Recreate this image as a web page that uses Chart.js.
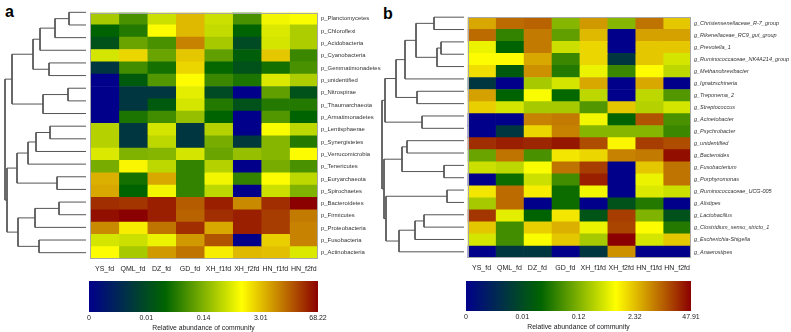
<!DOCTYPE html>
<html><head><meta charset="utf-8">
<script src="https://cdn.jsdelivr.net/npm/chart.js@4.4.0/dist/chart.umd.min.js"></script>
<style>
html,body{margin:0;padding:0;background:#fff;width:791px;height:332px;overflow:hidden;position:relative;font-family:"Liberation Sans",Arial,sans-serif;}
canvas{position:absolute;}
.lab{position:absolute;font-weight:bold;font-size:16px;line-height:16px;color:#000;}
</style></head><body>
<div class="lab" style="left:5px;top:4px">a</div>
<div class="lab" style="left:383px;top:6px">b</div>
<canvas id="dA" width="83" height="253" style="left:3px;top:6px"></canvas>
<canvas id="hA" width="304" height="275" style="left:89px;top:6px"></canvas>
<canvas id="cA" width="259" height="51" style="left:74px;top:281px"></canvas>
<canvas id="dB" width="84" height="247" style="left:380px;top:11px"></canvas>
<canvas id="hB" width="325" height="269" style="left:466px;top:11px"></canvas>
<canvas id="cB" width="255" height="50" style="left:451px;top:281px"></canvas>
<script>
// ---------- DATA ----------
const colsA = ["YS_fd","QML_fd","DZ_fd","GD_fd","XH_f1fd","XH_f2fd","HN_f1fd","HN_f2fd"];
const colsB = ["YS_fd","QML_fd","DZ_fd","GD_fd","XH_f1fd","XH_f2fd","HN_f1fd","HN_f2fd"];
const rowsA = ["p_Planctomycetes","p_Chloroflexi","p_Acidobacteria","p_Cyanobacteria","p_Gemmatimonadetes",
  "p_unidentified","p_Nitrospirae","p_Thaumarchaeota","p_Armatimonadetes","p_Lentisphaerae",
  "p_Synergistetes","p_Verrucomicrobia","p_Tenericutes","p_Euryarchaeota","p_Spirochaetes",
  "p_Bacteroidetes","p_Firmicutes","p_Proteobacteria","p_Fusobacteria","p_Actinobacteria"];
const rowsB = ["g_Christensenellaceae_R-7_group","g_Rikenellaceae_RC9_gut_group","g_Prevotella_1",
  "g_Ruminococcaceae_NK4A214_group","g_Methanobrevibacter","g_Ignatzschineria","g_Treponema_2",
  "g_Streptococcus","g_Acinetobacter","g_Psychrobacter","g_unidentified","g_Bacteroides",
  "g_Fusobacterium","g_Porphyromonas","g_Ruminococcaceae_UCG-005","g_Alistipes","g_Lactobacillus",
  "g_Clostridium_sensu_stricto_1","g_Escherichia-Shigella","g_Anaerostipes"];
// log-scaled relative abundance, expressed as position on the colour key (0 = "0", 100 = max)
const heatA = [
  [55,43,60,76,60,43,65,66],
  [33,38,67,76,59,33,62,56],
  [27,47,43,83,55,25,61,56],
  [61,72,47,74,46,31,74,41],
  [18,42,36,72,34,27,36,43],
  [0,30,44,67,41,37,62,56],
  [0,18,18,63,25,0,46,27],
  [0,18,30,61,38,27,38,38],
  [0,37,42,53,33,0,44,33],
  [57,18,61,18,57,0,66,58],
  [57,18,58,18,49,19,51,38],
  [62,50,51,61,47,53,51,67],
  [49,68,58,40,57,0,49,43],
  [77,36,78,40,65,40,67,58],
  [78,33,65,40,58,0,60,50],
  [94,93,96,88,96,82,94,100],
  [98,100,96,87,94,96,92,84],
  [82,69,85,94,78,96,92,83],
  [61,60,64,80,89,0,73,83],
  [67,55,80,85,69,76,75,62]];
const heatB = [
  [78,86,87,51,80,51,85,74],
  [86,40,84,46,76,0,79,79],
  [64,33,84,60,72,0,74,74],
  [67,67,78,41,72,18,74,61],
  [71,30,81,38,64,41,67,58],
  [18,0,55,61,78,0,78,0],
  [79,33,66,34,58,0,58,44],
  [73,61,55,55,44,74,57,61],
  [0,0,83,84,65,33,89,43],
  [0,18,72,83,51,51,51,41],
  [94,96,95,97,90,68,92,90],
  [47,85,43,70,72,83,84,98],
  [60,58,66,85,92,0,74,85],
  [0,35,60,42,96,0,64,85],
  [70,86,69,35,65,0,62,60],
  [55,86,0,35,0,27,38,0],
  [93,63,33,70,28,92,50,27],
  [74,42,73,77,64,91,67,38],
  [61,42,66,74,55,100,61,74],
  [0,18,18,0,18,81,0,0]];
const keyTicksA = ["0","0.01","0.14","3.01","68.22"];
const keyTicksB = ["0","0.01","0.12","2.32","47.91"];
const keyTitle = "Relative abundance of community";
// hierarchical clustering (hclust-style merges: negative = leaf row, positive = earlier merge)
const mergeA = [[-1,-2],[1,-3],[2,-4],[-5,-6],[3,4],[-7,-8],[6,-9],[5,7],[-10,-11],[9,-12],
  [10,-13],[-14,-15],[11,12],[-16,-17],[14,-18],[-19,-20],[15,16],[13,17],[8,18]];
const heightA = [17,31,46,37,53,18,43,74,36,50,58,29,69,27,51,47,68,79,81];
const mergeB = [[-1,-2],[-3,-4],[2,-5],[1,3],[4,-6],[-7,-8],[5,6],[-9,-10],[7,8],[-11,-12],
  [-13,-14],[10,11],[-15,-16],[-17,-18],[14,-19],[15,-20],[13,16],[12,17],[9,18]];
const heightB = [30,23,27,48,59,47,68,42,79,57,20,62,17,40,49,65,78,80,82];

// ---------- RENDERING ----------
const FONT = "'Liberation Sans', Arial, sans-serif";
const stops = [[0,[0,0,139]],[1/3,[0,100,0]],[2/3,[255,255,0]],[1,[139,0,0]]];
function colourOf(v){
  const t = Math.max(0, Math.min(1, v/100));
  for (let k=1;k<stops.length;k++){
    if (t <= stops[k][0]){
      const [t0,c0] = stops[k-1], [t1,c1] = stops[k];
      const f = (t-t0)/(t1-t0);
      return 'rgb(' + c0.map((c,i)=>Math.round(c+(c1[i]-c)*f)).join(',') + ')';
    }
  }
  return 'rgb(139,0,0)';
}
const frame = {id:'frame', afterDatasetsDraw(chart,args,opts){
  if(!opts || !opts.color) return;
  const a = chart.chartArea, c = chart.ctx;
  c.save(); c.strokeStyle = opts.color; c.lineWidth = 1;
  c.strokeRect(Math.round(a.left)+0.5, Math.round(a.top)+0.5, Math.round(a.right-a.left)-1, Math.round(a.bottom-a.top)-1);
  c.restore();
}};

function heatmap(id, rows, cols, vals, labW, italic, labSize){
  new Chart(document.getElementById(id), {
    type:'bar',
    data:{labels:rows, datasets:cols.map((c,j)=>({label:c, data:rows.map(()=>1),
      backgroundColor:rows.map((r,i)=>colourOf(vals[i][j])), borderWidth:0, barPercentage:1, categoryPercentage:1}))},
    options:{indexAxis:'y', responsive:false, animation:false, events:[],
      layout:{padding:0},
      plugins:{legend:{display:false}, tooltip:{enabled:false}, frame:{color:'#a8a8a8'}},
      scales:{
        x:{type:'linear', stacked:true, min:0, max:cols.length,
          grid:{display:false, drawTicks:false}, border:{display:false},
          afterBuildTicks:ax=>{ax.ticks = cols.map((c,j)=>({value:j+0.5}));},
          ticks:{autoSkip:false, maxRotation:0, padding:6, color:'#222', font:{family:FONT, size:7},
            callback:(v,i)=>cols[i]},
          afterFit:s=>{s.height = 22;}},
        y:{type:'category', stacked:true, position:'right',
          grid:{display:false, drawTicks:false}, border:{display:false},
          ticks:{autoSkip:false, padding:3, color:'#333', font:{family:FONT, size:labSize, style: italic?'italic':'normal'}},
          afterFit:s=>{s.width = labW;}}
      }},
    plugins:[frame]
  });
}

function dendro(id, merges, heights, n, hMax){
  const pos = [], datasets = [];
  const node = k => k<0 ? {y:-k, h:0} : pos[k-1];
  merges.forEach((m,k)=>{
    const L = node(m[0]), R = node(m[1]), h = heights[k];
    datasets.push({data:[{x:L.h,y:L.y},{x:h,y:L.y},{x:h,y:R.y},{x:R.h,y:R.y}],
      showLine:true, borderColor:'#555', borderWidth:1, pointRadius:0, fill:false, tension:0, clip:false});
    pos.push({y:(L.y+R.y)/2, h:h});
  });
  new Chart(document.getElementById(id), {
    type:'scatter', data:{datasets},
    options:{responsive:false, animation:false, events:[], layout:{padding:0},
      plugins:{legend:{display:false}, tooltip:{enabled:false}},
      scales:{x:{type:'linear', reverse:true, min:0, max:hMax, display:false},
              y:{type:'linear', reverse:true, min:0.5, max:n+0.5, display:false}}}
  });
}

function colourKey(id, tickLab){
  new Chart(document.getElementById(id), {
    type:'bar',
    data:{labels:[''], datasets:[{data:[1], borderWidth:0, barPercentage:1, categoryPercentage:1,
      backgroundColor:(ctx)=>{
        const a = ctx.chart.chartArea; if(!a) return '#888';
        const g = ctx.chart.ctx.createLinearGradient(a.left,0,a.right,0);
        stops.forEach(s=>g.addColorStop(s[0], 'rgb('+s[1].join(',')+')'));
        return g;
      }}]},
    options:{indexAxis:'y', responsive:false, animation:false, events:[],
      layout:{padding:{left:15,right:15,top:0,bottom:0}},
      plugins:{legend:{display:false}, tooltip:{enabled:false}},
      scales:{
        x:{type:'linear', min:0, max:1, grid:{display:false, drawTicks:false}, border:{display:false},
          afterBuildTicks:ax=>{ax.ticks = tickLab.map((t,i)=>({value:i/(tickLab.length-1)}));},
          ticks:{autoSkip:false, maxRotation:0, padding:2, color:'#222', font:{family:FONT, size:7},
            callback:(v,i)=>tickLab[i]},
          title:{display:true, text:keyTitle, color:'#222', font:{family:FONT, size:6.8}, padding:{top:0,bottom:0}},
          afterFit:s=>{s.height = 20;}},
        y:{display:false}
      }}
  });
}

dendro('dA', mergeA, heightA, rowsA.length, 83);
heatmap('hA', rowsA, colsA, heatA, 75, false, 5.9);
colourKey('cA', keyTicksA);
dendro('dB', mergeB, heightB, rowsB.length, 84);
heatmap('hB', rowsB, colsB, heatB, 100, true, 5.5);
colourKey('cB', keyTicksB);
</script>
</body></html>
